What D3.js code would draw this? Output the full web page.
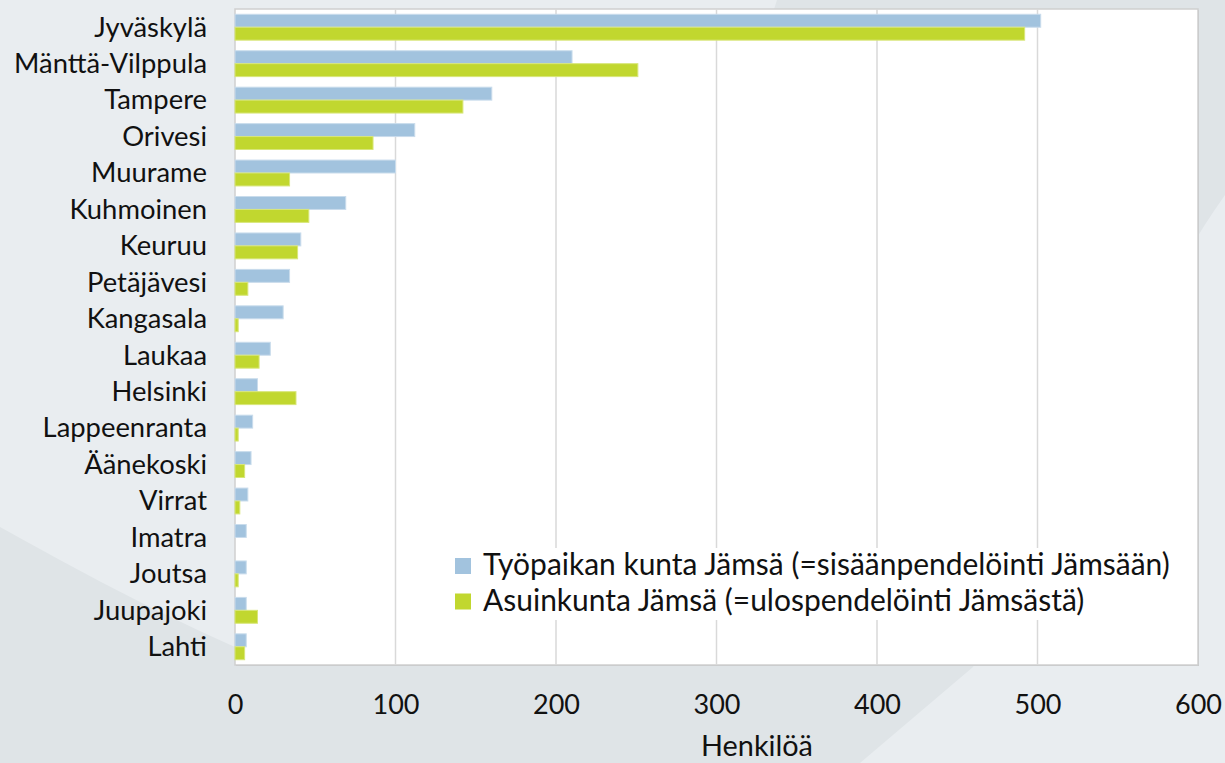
<!DOCTYPE html>
<html>
<head>
<meta charset="utf-8">
<script src="https://cdn.jsdelivr.net/npm/d3@7"></script>
<style>
  html, body { margin: 0; padding: 0; background: #dfe4e7; }
  svg { display: block; }
  text { font-family: Lato, "Open Sans", sans-serif; fill: #111; }
</style>
</head>
<body>
<svg id="chart" width="1225" height="763"></svg>
<script>
const kunnat = ["Jyväskylä", "Mänttä-Vilppula", "Tampere", "Orivesi", "Muurame", "Kuhmoinen", "Keuruu",
  "Petäjävesi", "Kangasala", "Laukaa", "Helsinki", "Lappeenranta", "Äänekoski", "Virrat", "Imatra",
  "Joutsa", "Juupajoki", "Lahti"];
const sisaan = [502, 210, 160, 112, 100, 69, 41, 34, 30, 22, 14, 11, 10, 8, 7, 7, 7, 7];
const ulos   = [492, 251, 142, 86, 34, 46, 39, 8, 2, 15, 38, 2, 6, 3, 0, 2, 14, 6];
const sarjat = ["Työpaikan kunta Jämsä (=sisäänpendelöinti Jämsään)", "Asuinkunta Jämsä (=ulospendelöinti Jämsästä)"];
const xTicks = [0, 100, 200, 300, 400, 500, 600];

const svg = d3.select("#chart");
const W = 1225, H = 763;
const pLeft = 235, pRight = 1198, pTop = 9, pBottom = 665;

// background swooshes
svg.append("rect").attr("width", W).attr("height", H).attr("fill", "#dfe4e7");
svg.append("path")
  .attr("d", "M0,0 L777,0 C700,250 500,560 235,647 C130,600 60,560 0,527 Z")
  .attr("fill", "#e9edf0");
svg.append("path")
  .attr("d", "M860,763 L973,667 C1080,470 1150,300 1225,195 L1225,763 Z")
  .attr("fill", "#e9edf0");

// plot area
svg.append("rect")
  .attr("x", pLeft + 1).attr("y", pTop + 1)
  .attr("width", pRight - pLeft).attr("height", pBottom - pTop)
  .attr("fill", "#bfc3c6");
svg.append("rect")
  .attr("x", pLeft).attr("y", pTop)
  .attr("width", pRight - pLeft).attr("height", pBottom - pTop)
  .attr("fill", "#fff").attr("stroke", "#cfcfcf").attr("stroke-width", 1.5);

const x = d3.scaleLinear().domain([0, 600]).range([pLeft, pRight]);
const y = d3.scaleBand().domain(kunnat).range([pTop, pBottom]).paddingInner(0.29).paddingOuter(0.145);
const ys = d3.scaleBand().domain([0, 1]).range([0, y.bandwidth()]);

// gridlines
svg.append("g")
  .selectAll("line")
  .data(xTicks.slice(1, -1))
  .join("line")
  .attr("x1", d => x(d)).attr("x2", d => x(d))
  .attr("y1", pTop).attr("y2", pBottom)
  .attr("stroke", "#d9d9d9").attr("stroke-width", 1.5);

const colors = ["#a2c3de", "#c1d72f"];
const strokes = ["#c9dcec", "#d8e67a"];
const rows = kunnat.map((k, i) => ({ k, v: [sisaan[i], ulos[i]] }));

const g = svg.append("g");
[0, 1].forEach(s => {
  g.selectAll(".bar" + s)
    .data(rows.filter(d => d.v[s] > 0))
    .join("rect")
    .attr("class", "bar" + s)
    .attr("x", x(0))
    .attr("y", d => y(d.k) + ys(s))
    .attr("width", d => x(d.v[s]) - x(0))
    .attr("height", ys.bandwidth())
    .attr("fill", colors[s])
    .attr("stroke", strokes[s]).attr("stroke-width", 1);
});

// category labels
const catFont = 26;
const cats = svg.append("g")
  .selectAll("text")
  .data(kunnat)
  .join("text")
  .attr("x", 207)
  .attr("y", d => y(d) + y.bandwidth() / 2 + catFont * 0.36)
  .attr("text-anchor", "end")
  .style("font-size", catFont + "px")
  .text(d => d);

// x axis
const xAxis = svg.append("g")
  .attr("transform", "translate(0," + (pBottom + 30) + ")")
  .call(d3.axisBottom(x).tickValues(xTicks).tickSize(0).tickPadding(0));
xAxis.select(".domain").remove();
const tickTxt = xAxis.selectAll("text")
  .attr("dy", "0.71em")
  .style("font-size", "25px")
  .style("font-family", "Lato, 'Open Sans', sans-serif")
  .attr("fill", "#111");

const title = svg.append("text")
  .attr("x", 757)
  .attr("y", 756)
  .attr("text-anchor", "middle")
  .style("font-size", "25px")
  .text("Henkilöä");

// legend
svg.append("rect")
  .attr("x", 446).attr("y", 548).attr("width", 735).attr("height", 72)
  .attr("fill", "#fff");
const leg = svg.append("g")
  .selectAll("g")
  .data(sarjat)
  .join("g")
  .attr("transform", (d, i) => "translate(455," + (558 + i * 35.5) + ")");
leg.append("rect")
  .attr("width", 16).attr("height", 16)
  .attr("fill", (d, i) => colors[i]);
leg.append("text")
  .attr("x", 28).attr("y", 17)
  .style("font-size", "25px")
  .text(d => d);

// fit font widths to the reference
const fit = (sel, target) => {
  const w = sel.node().getComputedTextLength();
  const fs = parseFloat(sel.style("font-size"));
  return fs * target / w;
};
const cf = fit(cats.filter(d => d === "Mänttä-Vilppula"), 193);
cats.style("font-size", cf + "px");
const lf = fit(leg.select("text"), 687);
leg.selectAll("text").style("font-size", lf + "px");
const tf = fit(tickTxt.filter(d => d === 600), 47);
tickTxt.style("font-size", tf + "px");
title.style("font-size", fit(title, 112) + "px");
</script>
</body>
</html>
